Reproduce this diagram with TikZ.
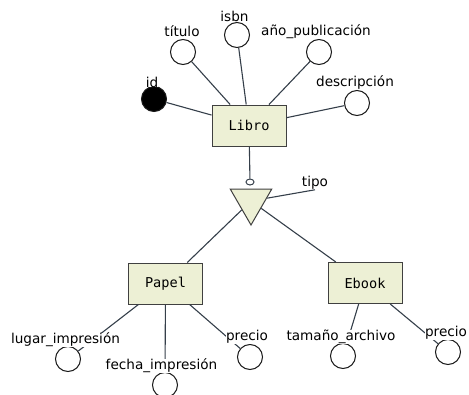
\documentclass[tikz,border=0pt]{standalone}
\usepackage{fontspec}
\setmainfont{DejaVu Sans}
\setmonofont{DejaVu Sans Mono}
\usepackage{tikz}
\usetikzlibrary{shapes.geometric}
\definecolor{ent}{HTML}{EDF0D5}
\definecolor{edge}{HTML}{353F4A}
\tikzset{
  entity/.style={draw=black!75, fill=ent, line width=1pt, minimum width=74pt, minimum height=41pt, inner sep=0pt, font=\ttfamily\fontsize{13.6}{16}\selectfont},
  attr/.style={circle, draw=black!90, fill=white, line width=1pt, minimum size=25pt, inner sep=0pt},
  keyattr/.style={attr, fill=black},
  lab/.style={fill=white, inner sep=0pt, font=\fontsize{13.6}{16}\selectfont},
  link/.style={draw=edge, line width=1.1pt},
}

\begin{document}
\begin{tikzpicture}[x=1pt,y=-1pt]
  \useasboundingbox (0,0) rectangle (469,394);

  % entities
  \node[entity] (libro) at (249,125.5) {Libro};
  \node[entity] (papel) at (165.5,283.5) {Papel};
  \node[entity] (ebook) at (365,283) {Ebook};

  % specialisation
  \node[ellipse, draw=edge, fill=white, line width=1pt, minimum width=8pt, minimum height=6pt, inner sep=0pt] (opt) at (250,182) {};
  \node[regular polygon, regular polygon sides=3, shape border rotate=180, draw=black!75, fill=ent, line width=1pt, minimum size=48pt, inner sep=0pt] (isa) at (251,201) {};

  % attributes
  \node[keyattr] (id) at (154,99) {};
  \node[attr] (titulo) at (183,52) {};
  \node[attr] (isbn) at (237,35) {};
  \node[attr] (anio) at (319,52) {};
  \node[attr] (desc) at (357,103) {};
  \node[attr] (lugar) at (68,359) {};
  \node[attr] (fecha) at (165,385) {};
  \node[attr] (precioP) at (250,357) {};
  \node[attr] (tamanio) at (343,356) {};
  \node[attr] (precioE) at (448,352) {};

  \node[lab] (ltipo) at (315,183) {tipo};

  \draw[link] (id) -- (libro);
  \draw[link] (titulo) -- (libro);
  \draw[link] (isbn) -- (libro);
  \draw[link] (anio) -- (libro);
  \draw[link] (desc) -- (libro);
  \draw[link] (libro) -- (opt);
  \draw[link] (isa) -- (ltipo.south);
  \draw[link] (isa) -- (papel);
  \draw[link] (isa) -- (ebook);
  \draw[link] (papel) -- (lugar);
  \draw[link] (papel) -- (fecha);
  \draw[link] (papel) -- (precioP);
  \draw[link] (ebook) -- (tamanio);
  \draw[link] (ebook) -- (precioE);

  % labels
  \node[lab] (lid) at (152,82) {id};
  \node[lab] (ltitulo) at (182,31) {título};
  \node[lab] (lisbn) at (234.5,16) {isbn};
  \node[lab] (lanio) at (316,32) {año\_publicación};
  \node[lab] (ldesc) at (355,82) {descripción};
  \node[lab] (llugar) at (65.5,340) {lugar\_impresión};
  \node[lab] (lfecha) at (161.5,366) {fecha\_impresión};
  \node[lab] (lprecioP) at (247,337) {precio};
  \node[lab] (ltamanio) at (341,337) {tamaño\_archivo};
  \node[lab] (lprecioE) at (446,333) {precio};
\end{tikzpicture}
\end{document}
